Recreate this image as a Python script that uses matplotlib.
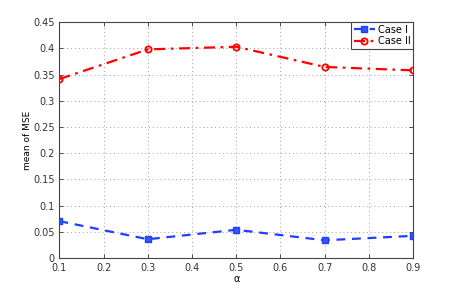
import matplotlib.pyplot as plt

# данные
alpha = [0.1, 0.3, 0.5, 0.7, 0.9]
case1 = [0.0705, 0.036, 0.054, 0.034, 0.0425]
case2 = [0.3415, 0.398, 0.403, 0.3645, 0.358]
xticks = [0.1, 0.2, 0.3, 0.4, 0.5, 0.6, 0.7, 0.8, 0.9]
yticks = [0, 0.05, 0.1, 0.15, 0.2, 0.25, 0.3, 0.35, 0.4, 0.45]


def main():
    fig = plt.figure(figsize=(4.57, 2.91), dpi=100)
    ax = fig.add_axes([0.130, 0.113, 0.774, 0.811])
    ax.plot(alpha, case1, color='#1f3fff', linestyle=(0, (4, 3)), linewidth=1.6,
            marker='s', markersize=4, markerfacecolor='#3355ff', label='Case I')
    ax.plot(alpha, case2, color='#ff0000', linestyle=(0, (5, 2.5, 1.2, 2.5)), linewidth=1.6,
            marker='o', markersize=4.5, markerfacecolor='none', markeredgewidth=1.3, label='Case II')
    ax.set_xlim(0.1, 0.9)
    ax.set_ylim(0, 0.45)
    ax.set_xticks(xticks)
    ax.set_yticks(yticks)
    ax.set_xticklabels([f'{t:g}' for t in xticks])
    ax.set_yticklabels([f'{t:g}' for t in yticks])
    ax.tick_params(direction='in', top=True, right=True, labelsize=7, length=3, width=0.6, colors='#333333')
    ax.grid(True, linestyle=(0, (1, 3)), color='#a0a0a0', linewidth=0.7)
    for s in ax.spines.values():
        s.set_linewidth(0.8)
        s.set_color('#444444')
    ax.set_xlabel('α', fontsize=7, labelpad=1)
    ax.set_ylabel('mean of MSE', fontsize=6.5, labelpad=1)
    leg = ax.legend(loc='upper right', fontsize=7, fancybox=False, framealpha=1,
                    edgecolor='#444444', borderpad=0.25, labelspacing=0.2,
                    handlelength=2.2, handletextpad=0.3, borderaxespad=0.0)
    leg.get_frame().set_linewidth(0.8)
    plt.savefig('out.png', dpi=100)


if __name__ == '__main__':
    main()
